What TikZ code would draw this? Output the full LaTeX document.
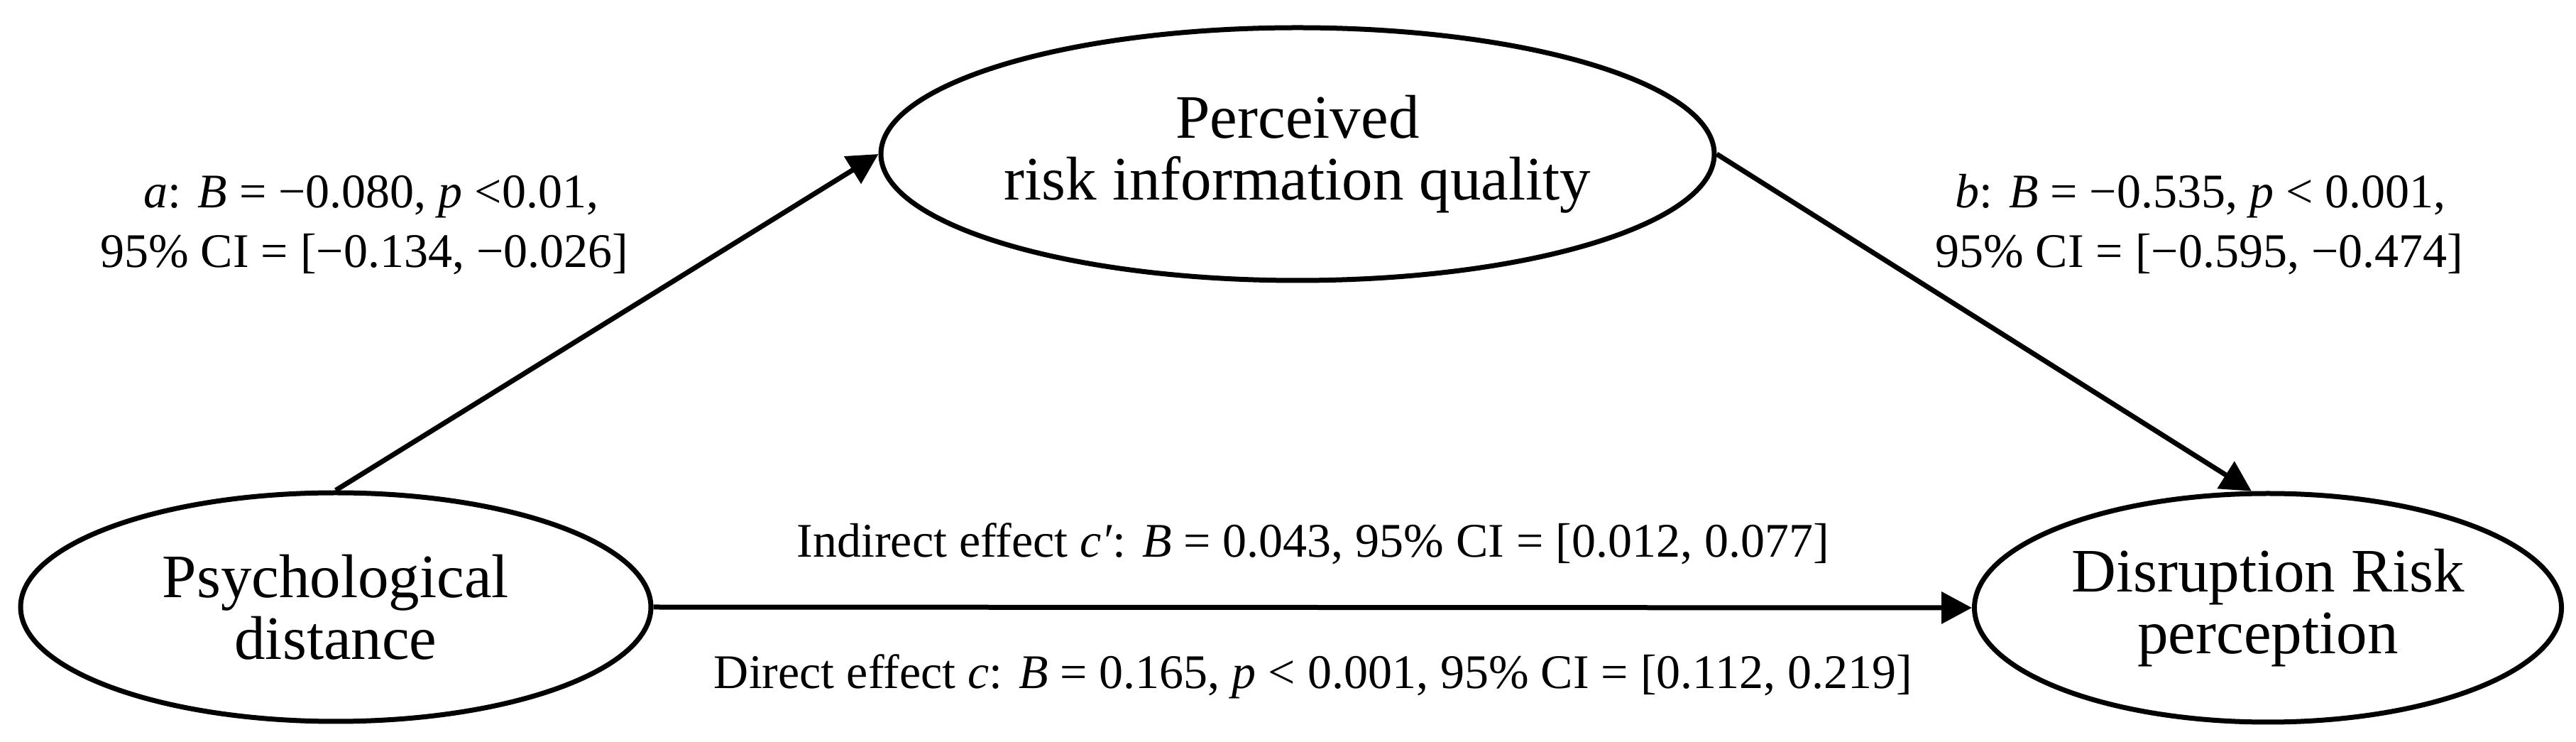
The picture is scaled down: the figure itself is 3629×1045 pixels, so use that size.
\documentclass[tikz,border=0pt]{standalone}
\usepackage{fontspec}
\setmainfont{Liberation Serif}
\usetikzlibrary{arrows.meta,shapes.geometric}
\begin{document}
\begin{tikzpicture}[x=0.25pt,y=-0.25pt,
  var/.style={ellipse,draw,line width=1.75pt,inner sep=0pt,align=center,font=\fontsize{21.75}{21.75}\selectfont},
  lbl/.style={anchor=base,inner sep=0pt,font=\fontsize{17}{21}\selectfont},
  arr/.style={line width=1.75pt,-{Triangle[length=10.75pt,width=11pt]}}]
\useasboundingbox (0,0) rectangle (3629,1045);
\node[var,minimum width=293.5pt,minimum height=89pt] (M) at (1828,217) {Perceived\\risk information quality};
\node[var,minimum width=222pt,minimum height=80.5pt] (X) at (473,855) {Psychological\\distance};
\node[var,minimum width=206.75pt,minimum height=80.5pt] (Y) at (3195,856) {Disruption Risk\\perception};
\draw[arr] (X.north) -- (M.west);
\draw[arr] (M.east) -- (Y.98);
\draw[arr] (X.east) -- (Y.west);
\node[lbl] (a1) at (523,293) {\textit{a}: \textit{B} = −0.080, \textit{p} <0.01,};
\node[lbl] (a2) at (513,377) {95\% CI = [−0.134, −0.026]};
\node[lbl] (b1) at (3100,293) {\textit{b}: \textit{B} = −0.535, \textit{p} < 0.001,};
\node[lbl] (b2) at (3098,377) {95\% CI = [−0.595, −0.474]};
\node[lbl] (ind) at (1850,785) {Indirect effect \textit{c′}: \textit{B} = 0.043, 95\% CI = [0.012, 0.077]};
\node[lbl] (dir) at (1850,970) {Direct effect \textit{c}: \textit{B} = 0.165, \textit{p} < 0.001, 95\% CI = [0.112, 0.219]};
\end{tikzpicture}
\end{document}
